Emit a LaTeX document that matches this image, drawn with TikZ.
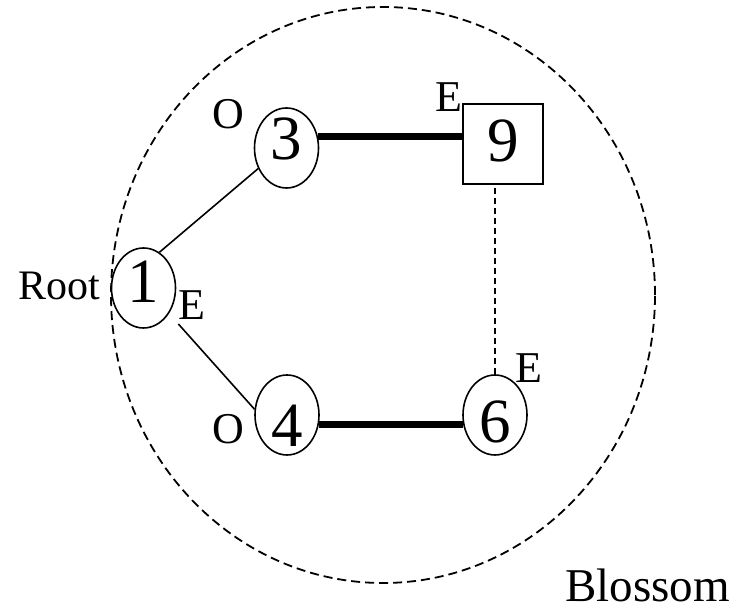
\documentclass[tikz,border=0pt]{standalone}
\usepackage{fontspec}
\setmainfont{Liberation Serif}
\usetikzlibrary{shapes.geometric}
\begin{document}
\begin{tikzpicture}[x=1pt,y=1pt,
  vtx/.style={draw, ellipse, line width=1.6pt, minimum width=64pt, minimum height=80pt, inner sep=0pt,
    text height=0pt, text depth=0pt, font=\fontsize{63}{63}\selectfont},
  sqv/.style={draw, rectangle, line width=1.6pt, minimum width=80pt, minimum height=80pt, inner sep=0pt,
    text height=0pt, text depth=0pt, font=\fontsize{63}{63}\selectfont},
  tag/.style={inner sep=0pt, anchor=base, font=\fontsize{44}{44}\selectfont},
  heavy/.style={line width=7pt},
  light/.style={line width=1.6pt},
  blossomline/.style={dash pattern=on 9pt off 5pt, line width=1.8pt},
  faint/.style={dash pattern=on 6pt off 4pt, line width=1.2pt}]
\useasboundingbox (0,0) rectangle (747,612);
\draw[blossomline] (383,317) ellipse [x radius=272, y radius=288];
\node[vtx] (n1) at (143.5,324) {\raisebox{-15pt}{1}};
\node[vtx] (n3) at (286.5,464) {\raisebox{-12pt}{3}};
\node[sqv] (n9) at (503,468) {\raisebox{-18pt}{9}};
\node[vtx] (n4) at (287,197) {\raisebox{-32pt}{4}};
\node[vtx] (n6) at (495,197) {\raisebox{-28pt}{6}};
\draw[heavy] (n3.20) -- (n3.20 -| n9.west);
\draw[heavy] (n4.-16) -- (n6.196);
\draw[light] (n1.66) -- (n3.216);
\draw[light, shorten <=14pt] (n1.-45) -- (n4.170);
\draw[faint] (n6.north) -- (n6.north |- n9.south);
\node[tag, font=\fontsize{42}{42}\selectfont] (lroot) at (59,312) {Root};
\node[tag] (le1) at (191.5,292) {E};
\node[tag] (lo3) at (228,483) {O};
\node[tag] (le9) at (448.5,500) {E};
\node[tag] (le6) at (528.5,229) {E};
\node[tag] (lo4) at (228,168) {O};
\node[tag, font=\fontsize{47}{47}\selectfont] (lbl) at (647.5,10) {Blossom};
\end{tikzpicture}
\end{document}
